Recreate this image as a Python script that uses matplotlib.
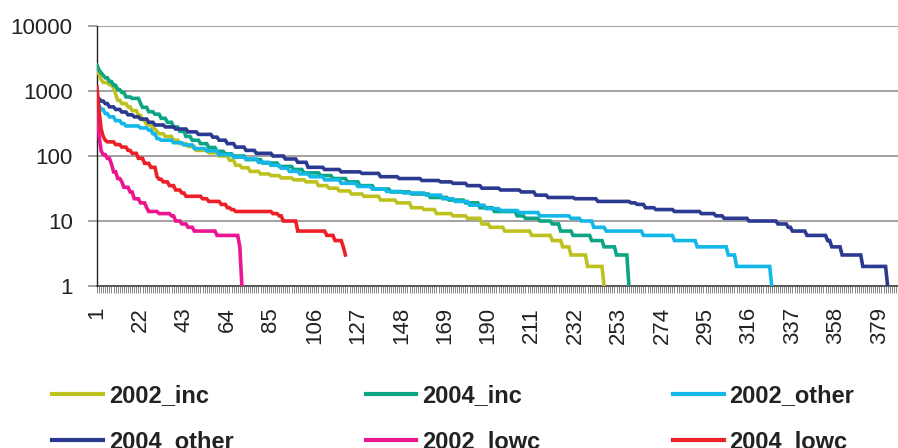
import numpy as np
import matplotlib
matplotlib.use("Agg")
import matplotlib.pyplot as plt
from matplotlib.ticker import FixedLocator, NullLocator

plt.rcParams['font.family'] = ['Liberation Sans', 'DejaVu Sans']

inc02_start = [1, 2, 3, 4, 7, 9, 10, 11, 13, 16, 18, 21, 23, 25, 28, 30, 31, 34, 38, 41, 45, 49,
               55, 60, 65, 68, 71, 75, 80, 85, 90, 96, 102, 108, 113, 118, 124, 130, 138, 146,
               153, 159, 165, 173, 180, 187, 191, 198, 211, 221, 226, 230, 238, 246]
inc02_val = [2200, 1800, 1500, 1350, 1250, 1100, 900, 720, 640, 570, 500, 420, 360, 300, 260, 240,
             220, 200, 175, 155, 140, 122, 112, 100, 86, 72, 66, 58, 53, 50, 46, 43, 40, 35, 32,
             29, 26, 24, 21, 19, 16, 15, 13, 12, 11, 9, 8, 7, 6, 5, 4, 3, 2, 1]

inc04_start = [1, 2, 3, 4, 5, 7, 9, 11, 13, 15, 18, 22, 23, 26, 29, 32, 35, 38, 41, 44, 47, 51,
               55, 59, 63, 67, 73, 81, 89, 96, 101, 109, 115, 122, 128, 135, 143, 153, 162, 171,
               179, 186, 193, 204, 208, 215, 221, 225, 231, 240, 246, 252, 258]
inc04_val = [2500, 2100, 1900, 1750, 1600, 1400, 1220, 1050, 950, 810, 770, 650, 560, 480, 440,
             380, 330, 280, 240, 200, 175, 155, 135, 118, 108, 100, 88, 78, 69, 62, 55, 50, 45,
             40, 35, 31, 28, 26, 23, 21, 19, 16, 14, 12, 11, 10, 9, 7, 6, 5, 4, 3, 1]

other02_start = [1, 2, 3, 5, 7, 10, 13, 15, 22, 26, 28, 30, 32, 38, 43, 48, 54, 60, 67, 73, 79,
                 85, 90, 94, 99, 104, 111, 119, 127, 134, 141, 149, 160, 168, 174, 181, 189, 196,
                 205, 215, 230, 235, 241, 247, 265, 280, 291, 306, 310, 327]
other02_val = [700, 600, 520, 450, 400, 350, 315, 290, 270, 250, 220, 185, 175, 160, 148, 130,
               120, 105, 96, 90, 80, 72, 65, 58, 53, 48, 43, 38, 34, 31, 28.5, 27, 25, 22, 20,
               17.5, 15.5, 14.5, 13.5, 12, 11, 10, 8, 7, 6, 5, 4, 3, 2, 1]

other04_start = [1, 2, 3, 5, 7, 10, 13, 16, 19, 22, 26, 29, 34, 39, 45, 50, 57, 60, 64, 68, 73,
                 78, 86, 92, 98, 103, 111, 119, 129, 138, 147, 158, 167, 173, 180, 187, 196, 206,
                 213, 219, 232, 243, 259, 262, 266, 271, 280, 293, 300, 304, 316, 330, 335, 337,
                 344, 354, 356, 361, 371, 383]
other04_val = [800, 760, 700, 640, 570, 520, 475, 430, 400, 370, 330, 300, 280, 260, 235, 215,
               195, 175, 155, 137, 122, 110, 100, 90, 80, 67, 62, 57, 54, 48, 45, 42, 40, 38, 35,
               32, 30, 28, 25, 23, 22, 20, 19, 18, 16, 15, 14, 13, 12, 11, 10, 9, 8, 7, 6, 5, 4,
               3, 2, 1]

lowc02_start = [1, 2, 3, 4, 6, 8, 9, 11, 13, 14, 17, 19, 22, 25, 26, 31, 37, 39, 42, 45, 48, 59,
                70, 71]
lowc02_val = [500, 200, 120, 105, 92, 75, 57, 45, 40, 33, 28, 22, 19, 16, 14, 13, 12, 10, 9, 8,
              7, 6, 4, 1]

lowc04_start = [1, 2, 3, 4, 5, 6, 10, 13, 16, 18, 21, 24, 27, 30, 31, 33, 36, 39, 42, 44, 52, 55,
                61, 64, 66, 68, 86, 89, 91, 98, 112, 116, 120, 121]
lowc04_val = [1150, 500, 260, 200, 175, 165, 150, 137, 122, 110, 92, 77, 67, 48, 44, 40, 35, 30,
              27, 24, 22, 20, 18, 16, 15, 14, 13, 12, 10, 7, 6, 5, 4, 3]

n_cat = 388
tick_labels = list(range(1, 380, 21))


def expand(starts, vals):
    counts = np.diff(starts + [starts[-1] + 1])
    return np.repeat(vals, counts)


series = [
    ("2002_inc", inc02_start, inc02_val, "#bdc21f"),
    ("2004_inc", inc04_start, inc04_val, "#0ea585"),
    ("2002_other", other02_start, other02_val, "#13b8e8"),
    ("2004_other", other04_start, other04_val, "#2b3990"),
    ("2002_lowc", lowc02_start, lowc02_val, "#ec1590"),
    ("2004_lowc", lowc04_start, lowc04_val, "#ee2027"),
]

fig = plt.figure(figsize=(8.98, 4.48), dpi=100)
ax = fig.add_axes([97 / 898, 1 - 286 / 448, 1 - 97 / 898, (286 - 26) / 448])

lines = {}
for name, st, vals, col in series:
    y = expand(st, vals)
    x = np.arange(1, len(y) + 1)
    lines[name], = ax.plot(x, y, color=col, lw=2.6, label=name, solid_joinstyle='miter', zorder=3)

ax.set_yscale('log')
ax.set_ylim(1, 10000)
ax.set_xlim(1, n_cat)
ax.yaxis.set_major_locator(FixedLocator([1, 10, 100, 1000, 10000]))
ax.yaxis.set_minor_locator(NullLocator())
ax.set_yticklabels(['1', '10', '100', '1000', '10000'])
ax.grid(axis='y', color='#888888', lw=1.1, zorder=0)

ax.xaxis.set_major_locator(FixedLocator(tick_labels))
ax.xaxis.set_minor_locator(FixedLocator(np.arange(1, n_cat + 1)))
ax.set_xticklabels([str(t) for t in tick_labels], rotation=90, va='top', ha='center')

ax.tick_params(axis='y', which='major', length=6.5, width=1.1, color='#888888', pad=11,
               labelsize=16, labelcolor='#222222')
ax.tick_params(axis='x', which='both', length=5, width=0.5, color='#555555', direction='out')
ax.tick_params(axis='x', which='major', pad=10, labelsize=16, labelcolor='#222222')

for s in ['top', 'right']:
    ax.spines[s].set_visible(False)
ax.spines['left'].set_color('#222222')
ax.spines['left'].set_linewidth(1.0)
ax.spines['bottom'].set_color('#444444')
ax.spines['bottom'].set_linewidth(1.2)

order = ["2002_inc", "2004_other", "2004_inc", "2002_lowc", "2002_other", "2004_lowc"]
leg = fig.legend([lines[k] for k in order], order, loc='upper left',
                 bbox_to_anchor=(52 / 898, 1 - 384 / 448), ncol=3, frameon=False,
                 borderpad=0, borderaxespad=0, handlelength=2.15, handletextpad=0.25,
                 columnspacing=5.6, labelspacing=0.98,
                 prop={'size': 17, 'weight': 'bold'})
for t in leg.get_texts():
    t.set_color('#222222')
for h in leg.legend_handles:
    h.set_linewidth(3)

fig.savefig('out.png', dpi=100)
